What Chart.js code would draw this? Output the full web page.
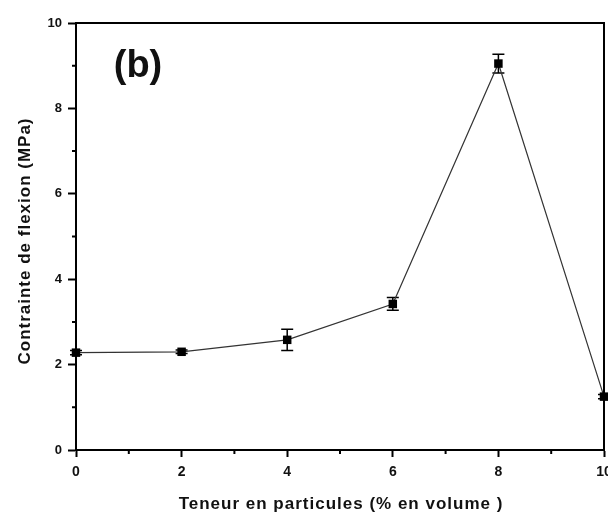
<!DOCTYPE html>
<html>
<head>
<meta charset="utf-8">
<script src="https://cdn.jsdelivr.net/npm/chart.js@4/dist/chart.umd.min.js"></script>
<style>
  html, body { margin: 0; padding: 0; background: #fff; overflow: hidden; }
  #wrap { width: 620px; height: 514px; }
</style>
</head>
<body>
<div id="wrap"><canvas id="myChart" width="620" height="514"></canvas></div>
<script>
  const contents = [0, 2, 4, 6, 8, 10];
  const stress = [2.28, 2.30, 2.58, 3.42, 9.05, 1.25];
  const stressErr = [0.05, 0.04, 0.25, 0.15, 0.22, 0.05];

  const xTitle = 'Teneur en particules (% en volume )';
  const yTitle = 'Contrainte de flexion (MPa)';
  const panelLabel = '(b)';

  const textColor = '#111';
  const fontFamily = '"Liberation Sans", Arial, sans-serif';

  const points = contents.map((c, i) => ({ x: c, y: stress[i] }));

  // minor ticks, frame, error bars and labels
  const extras = {
    id: 'extras',
    beforeDatasetsDraw(chart) {
      const { ctx } = chart;
      const x = chart.scales.x, y = chart.scales.y;
      ctx.save();
      ctx.strokeStyle = '#000';
      ctx.lineWidth = 1.5;
      points.forEach((p, i) => {
        const px = x.getPixelForValue(p.x);
        const top = y.getPixelForValue(p.y + stressErr[i]);
        const bot = y.getPixelForValue(p.y - stressErr[i]);
        ctx.beginPath();
        ctx.moveTo(px, top); ctx.lineTo(px, bot);
        ctx.moveTo(px - 6, top); ctx.lineTo(px + 6, top);
        ctx.moveTo(px - 6, bot); ctx.lineTo(px + 6, bot);
        ctx.stroke();
      });
      ctx.restore();
    },
    afterDraw(chart) {
      const { ctx, chartArea } = chart;
      const x = chart.scales.x, y = chart.scales.y;
      ctx.save();
      ctx.strokeStyle = '#000';
      ctx.lineWidth = 2;
      ctx.strokeRect(chartArea.left, chartArea.top, chartArea.right - chartArea.left, chartArea.bottom - chartArea.top);

      // minor ticks
      ctx.beginPath();
      for (let v = 1; v < 10; v += 2) {
        const px = x.getPixelForValue(v);
        ctx.moveTo(px, chartArea.bottom);
        ctx.lineTo(px, chartArea.bottom + 4);
        const py = y.getPixelForValue(v);
        ctx.moveTo(chartArea.left, py);
        ctx.lineTo(chartArea.left - 4, py);
      }
      ctx.stroke();

      ctx.fillStyle = textColor;
      ctx.textAlign = 'center';
      ctx.textBaseline = 'middle';
      ctx.font = 'bold 17px ' + fontFamily;
      ctx.letterSpacing = '1px';
      ctx.fillText(xTitle, 341, 504);

      ctx.save();
      ctx.translate(25, 241);
      ctx.rotate(-Math.PI / 2);
      ctx.fillText(yTitle, 0, 0);
      ctx.restore();

      ctx.letterSpacing = '0px';
      ctx.font = 'bold 38px ' + fontFamily;
      ctx.fillText(panelLabel, 138, 67);
      ctx.restore();
    }
  };

  const config = {
    type: 'line',
    data: {
      datasets: [{
        data: points,
        borderColor: '#333',
        borderWidth: 1.2,
        backgroundColor: '#000',
        pointStyle: 'rect',
        pointRadius: 6,
        pointBorderWidth: 0,
        pointBackgroundColor: '#000',
        tension: 0,
        clip: false
      }]
    },
    options: {
      responsive: false,
      animation: false,
      devicePixelRatio: 1,
      layout: { padding: { top: 23, right: 16, left: 0, bottom: 0 } },
      plugins: {
        legend: { display: false },
        tooltip: { enabled: false }
      },
      scales: {
        x: {
          type: 'linear',
          min: 0,
          max: 10,
          afterFit(scale) { scale.height = 64; },
          border: { display: true, color: '#000', width: 2 },
          grid: {
            drawOnChartArea: false,
            tickLength: 7,
            tickWidth: 2,
            tickColor: ctx => (ctx.tick && ctx.tick.value % 2 === 0) ? '#000' : 'rgba(0,0,0,0)'
          },
          ticks: {
            stepSize: 1,
            autoSkip: false,
            maxRotation: 0,
            padding: 7,
            color: textColor,
            font: { family: fontFamily, size: 14, weight: 'bold' },
            callback: v => v % 2 === 0 ? v : ''
          }
        },
        y: {
          min: 0,
          max: 10,
          afterFit(scale) { scale.width = 76; },
          border: { display: true, color: '#000', width: 2 },
          grid: {
            drawOnChartArea: false,
            tickLength: 8,
            tickWidth: 2,
            tickColor: ctx => (ctx.tick && ctx.tick.value % 2 === 0) ? '#000' : 'rgba(0,0,0,0)'
          },
          ticks: {
            stepSize: 1,
            autoSkip: false,
            padding: 6,
            color: textColor,
            font: { family: fontFamily, size: 13, weight: 'bold' },
            callback: v => v % 2 === 0 ? v : ''
          }
        }
      }
    },
    plugins: [extras]
  };

  const myChart = new Chart(
    document.getElementById('myChart'),
    config
  );
</script>
</body>
</html>
